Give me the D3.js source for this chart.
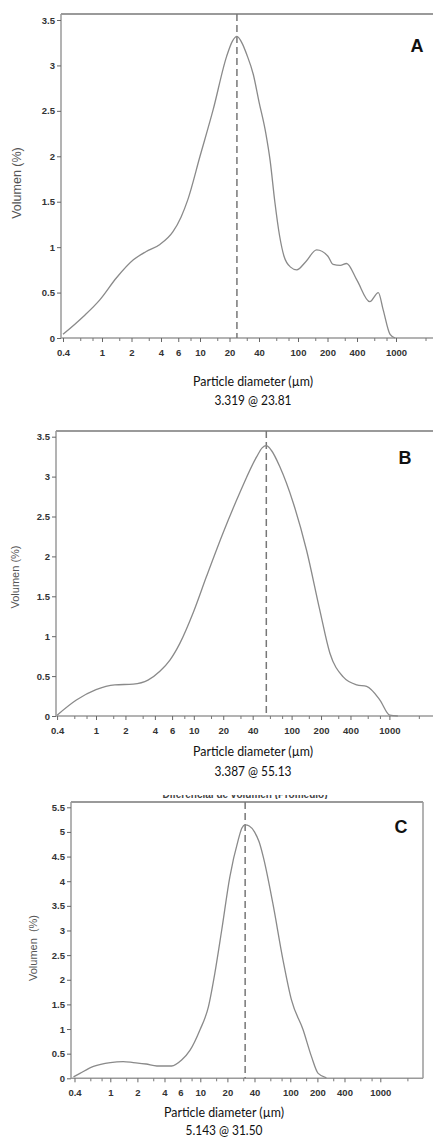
<!DOCTYPE html>
<html>
<head>
<meta charset="utf-8">
<script src="https://cdnjs.cloudflare.com/ajax/libs/d3/7.8.5/d3.min.js"></script>
<style>
  html, body { margin: 0; padding: 0; background: #fff; }
  svg { display: block; }
</style>
</head>
<body>
<div id="chart"></div>
<script>
// ---- data ----
const xTickLabels = [0.4, 1, 2, 4, 6, 10, 20, 40, 100, 200, 400, 1000];
const xMinorTicks = [0.6, 0.8, 1.5, 3, 8, 15, 30, 60, 80, 150, 300, 600, 800, 2000];

const aDiam = [0.4, 0.65, 0.95, 1.4, 2.09, 2.8, 3.9, 5.3, 6.4, 7.5, 10, 13.6, 18.7, 21.5, 23.81, 27, 30, 35, 40, 47, 52, 58, 65, 72, 84, 97, 120, 155, 202, 228, 270, 313, 398, 540, 660, 740, 870, 980];
const aVol  = [0.04, 0.24, 0.42, 0.66, 0.86, 0.95, 1.03, 1.17, 1.33, 1.52, 2.0, 2.51, 3.1, 3.27, 3.319, 3.24, 3.12, 2.9, 2.6, 2.25, 1.95, 1.5, 1.12, 0.9, 0.78, 0.75, 0.84, 0.97, 0.9, 0.81, 0.8, 0.82, 0.64, 0.4, 0.5, 0.31, 0.04, 0];
const aPeak = { vol: 3.319, diam: 23.81 };

const bDiam = [0.4, 0.63, 1.0, 1.56, 2.4, 3.4, 4.5, 5.7, 7.2, 9.9, 13.5, 20, 29.6, 44, 50, 55.13, 62, 76, 104, 142, 194, 246, 337, 464, 585, 800, 1010, 1220];
const bVol  = [0.01, 0.2, 0.33, 0.39, 0.40, 0.45, 0.56, 0.70, 0.91, 1.3, 1.75, 2.3, 2.8, 3.25, 3.36, 3.387, 3.33, 3.12, 2.67, 2.08, 1.33, 0.79, 0.49, 0.39, 0.37, 0.2, 0.01, 0];
const bPeak = { vol: 3.387, diam: 55.13 };

const cDiam = [0.39, 0.46, 0.65, 1.0, 1.39, 1.8, 2.5, 3.3, 4.8, 6.2, 7.7, 9.9, 12.3, 14.5, 17.3, 21.3, 26.4, 29, 31.5, 35, 40, 45, 50, 64, 83, 103, 139, 172, 204, 252];
const cVol  = [0.03, 0.1, 0.24, 0.32, 0.34, 0.32, 0.29, 0.25, 0.25, 0.37, 0.57, 0.98, 1.45, 2.13, 3.01, 4.09, 4.84, 5.08, 5.143, 5.12, 5.0, 4.8, 4.5, 3.55, 2.4, 1.59, 0.98, 0.44, 0.1, 0.01];
const cPeak = { vol: 5.143, diam: 31.50 };

const aYTicks = [0, 0.5, 1, 1.5, 2, 2.5, 3, 3.5];
const bYTicks = [0, 0.5, 1, 1.5, 2, 2.5, 3, 3.5];
const cYTicks = [0, 0.5, 1, 1.5, 2, 2.5, 3, 3.5, 4, 4.5, 5, 5.5];

const W = 433, H = 1138;

const svg = d3.select("#chart").append("svg")
  .attr("width", W)
  .attr("height", H)
  .attr("viewBox", `0 0 ${W} ${H}`);

// panel layout (pixels)
const panels = [
  { id: "A", diam: aDiam, vol: aVol, peak: aPeak, yTicks: aYTicks, yMax: 3.5,
    left: 61, top: 14, right: 433, bottom: 338, x1: 102, x1000: 396, yTop: 20,
    rightBorder: false, letter: [417, 52], yTitle: [17, 183, 12.5], xTitleY: 386, peakY: 405, cx: 253 },
  { id: "B", diam: bDiam, vol: bVol, peak: bPeak, yTicks: bYTicks, yMax: 3.5,
    left: 56, top: 431, right: 433, bottom: 716, x1: 96, x1000: 389.4, yTop: 436.7,
    rightBorder: false, letter: [405, 464], yTitle: [15, 577, 11], xTitleY: 756, peakY: 776, cx: 253 },
  { id: "C", diam: cDiam, vol: cVol, peak: cPeak, yTicks: cYTicks, yMax: 5.5,
    left: 71, top: 802, right: 423, bottom: 1078.3, x1: 110.3, x1000: 380.3, yTop: 807.3,
    rightBorder: true, letter: [401, 833], yTitle: [33, 948, 11], xTitleY: 1117, peakY: 1135, cx: 224,
    cutTitle: "Diferencial de volumen (Promedio)" }
];

const axisColor = "#9a9a9a";
const tickFont = "'Liberation Sans', Arial, sans-serif";
const labelFont = "Lato, 'Open Sans', sans-serif";

panels.forEach(p => {
  const x = d3.scaleLog().domain([1, 1000]).range([p.x1, p.x1000]);
  const y = d3.scaleLinear().domain([0, p.yMax]).range([p.bottom, p.yTop]);
  const g = svg.append("g").attr("class", "panel-" + p.id);

  // title above panel C, cut off in the original
  if (p.cutTitle) {
    const defs = svg.append("defs");
    defs.append("clipPath").attr("id", "cut-" + p.id)
      .append("rect").attr("x", 0).attr("y", p.top - 7).attr("width", W).attr("height", 4);
    g.append("text")
      .attr("clip-path", `url(#cut-${p.id})`)
      .attr("x", 245).attr("y", p.top - 4)
      .attr("text-anchor", "middle")
      .style("font-family", tickFont)
      .style("font-size", "10px")
      .style("font-weight", "bold")
      .style("fill", "#444")
      .text(p.cutTitle);
  }

  // frame
  g.append("line")
    .attr("x1", p.left).attr("x2", p.right).attr("y1", p.top).attr("y2", p.top)
    .attr("stroke", axisColor).attr("stroke-width", 2);
  g.append("line")
    .attr("x1", p.left).attr("x2", p.left).attr("y1", p.top).attr("y2", p.bottom)
    .attr("stroke", axisColor).attr("stroke-width", 1.5);
  g.append("line")
    .attr("x1", p.left).attr("x2", p.right).attr("y1", p.bottom).attr("y2", p.bottom)
    .attr("stroke", axisColor).attr("stroke-width", 1.5);
  if (p.rightBorder) {
    g.append("line")
      .attr("x1", p.right).attr("x2", p.right).attr("y1", p.top).attr("y2", p.bottom)
      .attr("stroke", axisColor).attr("stroke-width", 1.5);
  }

  // y axis
  const yAxis = d3.axisLeft(y).tickValues(p.yTicks).tickSize(4).tickPadding(2)
    .tickFormat(d => String(d));
  const ya = g.append("g").attr("transform", `translate(${p.left},0)`).call(yAxis);
  ya.select(".domain").remove();
  ya.selectAll("line").attr("stroke", "#666");
  ya.selectAll("text")
    .style("font-family", tickFont).style("font-size", "9.5px")
    .style("font-weight", "bold").style("fill", "#333");

  // x axis: labelled ticks + minor ticks
  const xAxis = d3.axisBottom(x).tickValues(xTickLabels).tickSize(4).tickPadding(7)
    .tickFormat(d => String(d));
  const xa = g.append("g").attr("transform", `translate(0,${p.bottom})`).call(xAxis);
  xa.select(".domain").remove();
  xa.selectAll("line").attr("stroke", "#666");
  xa.selectAll("text")
    .style("font-family", tickFont).style("font-size", "9.5px")
    .style("font-weight", "bold").style("fill", "#333");
  const minor = d3.axisBottom(x).tickValues(xMinorTicks.filter(v => x(v) < p.right - 2))
    .tickSize(3).tickFormat("");
  const mi = g.append("g").attr("transform", `translate(0,${p.bottom})`).call(minor);
  mi.select(".domain").remove();
  mi.selectAll("line").attr("stroke", "#777");

  // peak marker (dashed)
  g.append("line")
    .attr("x1", x(p.peak.diam)).attr("x2", x(p.peak.diam))
    .attr("y1", p.top).attr("y2", p.bottom)
    .attr("stroke", "#777").attr("stroke-width", 1.5)
    .attr("stroke-dasharray", "7,4");

  // curve
  const pts = p.diam.map((d, i) => [d, p.vol[i]]);
  const line = d3.line()
    .x(d => x(d[0]))
    .y(d => y(d[1]))
    .curve(d3.curveMonotoneX);
  g.append("path")
    .datum(pts)
    .attr("d", line)
    .attr("fill", "none")
    .attr("stroke", "#8a8a8a")
    .attr("stroke-width", 1.3);

  // panel letter
  g.append("text")
    .attr("x", p.letter[0]).attr("y", p.letter[1])
    .attr("text-anchor", "middle")
    .style("font-family", "'Liberation Sans', Arial, sans-serif")
    .style("font-size", "18px").style("font-weight", "bold")
    .style("fill", "#111")
    .text(p.id);

  // y title
  g.append("text")
    .attr("transform", `translate(${p.yTitle[0]},${p.yTitle[1]}) rotate(-90)`)
    .attr("text-anchor", "middle")
    .attr("dy", "0.35em")
    .style("font-family", "'Liberation Sans', Arial, sans-serif")
    .style("font-size", p.yTitle[2] + "px")
    .style("fill", "#555")
    .text(p.id === "C" ? "Volumen\u00a0\u00a0(%)" : "Volumen (%)");

  // x title and peak note
  g.append("text")
    .attr("x", p.cx).attr("y", p.xTitleY)
    .attr("text-anchor", "middle")
    .attr("textLength", 120).attr("lengthAdjust", "spacingAndGlyphs")
    .style("font-family", labelFont).style("font-size", "14px").style("fill", "#111")
    .text("Particle diameter (\u00b5m)");
  g.append("text")
    .attr("x", p.cx).attr("y", p.peakY)
    .attr("text-anchor", "middle")
    .attr("textLength", 77).attr("lengthAdjust", "spacingAndGlyphs")
    .style("font-family", labelFont).style("font-size", "14px").style("fill", "#111")
    .text(`${p.peak.vol.toFixed(3)} @ ${p.peak.diam.toFixed(2)}`);
});
</script>
</body>
</html>
